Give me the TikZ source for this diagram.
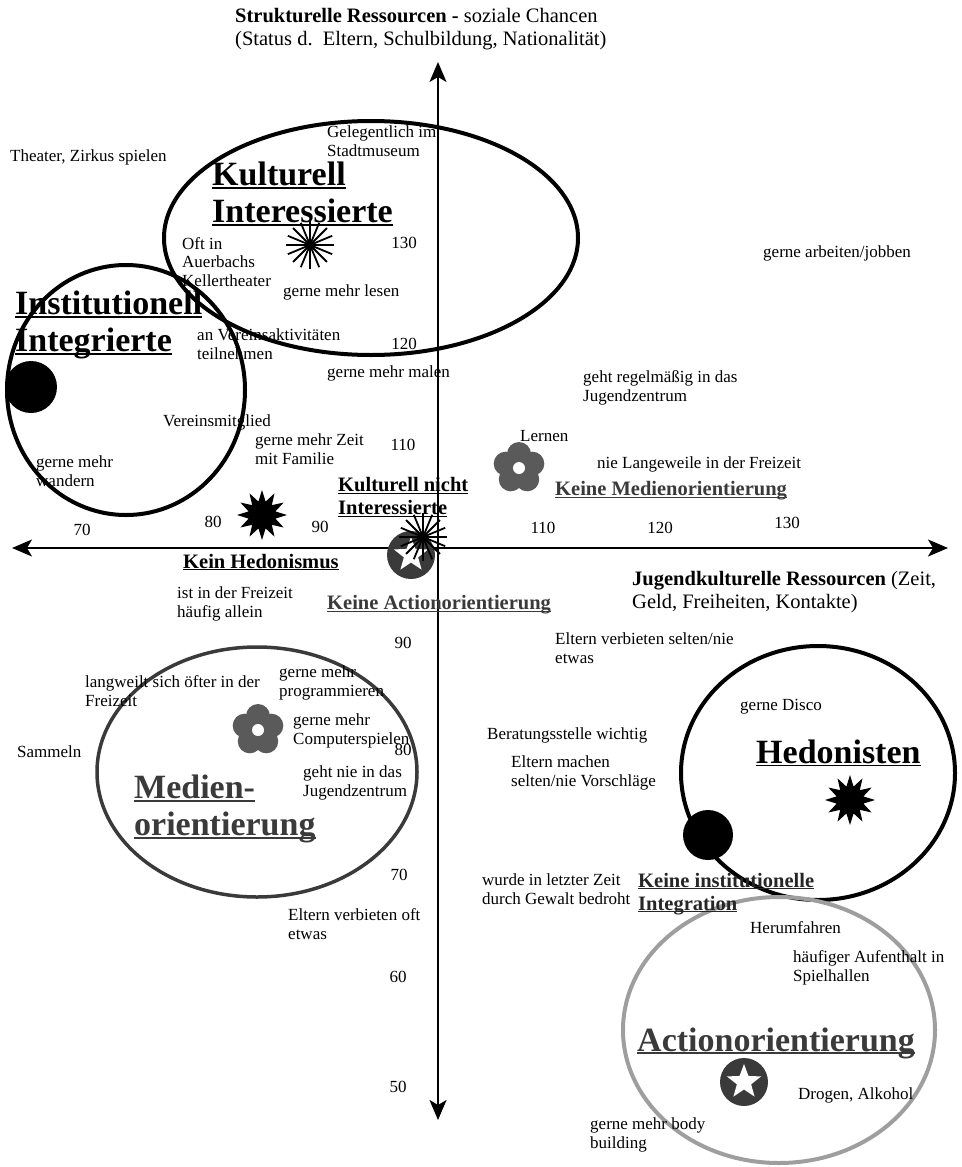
\documentclass[tikz,border=0pt]{standalone}
\usepackage{fontspec}
\setmainfont{Liberation Serif}
\usetikzlibrary{positioning, shapes.geometric, arrows.meta}
\definecolor{ink}{HTML}{000000}
\definecolor{slate}{HTML}{3A3A3A}
\definecolor{ash}{HTML}{9E9E9E}
\definecolor{petal}{HTML}{5A5A5A}
\newcommand{\NormF}{\fontsize{17}{18.5}\selectfont}
\newcommand{\HeadF}{\fontsize{20.5}{23}\selectfont\bfseries}
\newcommand{\BigF}{\fontsize{34}{37}\selectfont\bfseries}
\newcommand{\AxisF}{\fontsize{20.5}{22.5}\selectfont}
% underline close to the baseline
\newcommand{\ulbox}[1]{\setbox0\hbox{#1}\rlap{\rule[-0.09em]{\wd0}{0.05em}}\box0}
% 16 thin rays
\newcommand{\burst}[3]{%
  \coordinate (#1) at (#2,#3);
  \foreach \a in {0,22.5,...,157.5}
    \draw[line width=1.8pt, ink] (#1) ++(\a:24) -- ++(\a+180:48);
}
% five petals, white centre
\newcommand{\flower}[3]{%
  \coordinate (#1) at (#2,#3);
  \fill[petal] (#1) circle[radius=10];
  \foreach \a in {270,342,...,558}
    \fill[petal] (#1) ++(\a:14) circle[radius=12];
  \fill[white] (#1) circle[radius=6];
}
\newcommand{\starcoin}[3]{%
  \node[circle, fill=slate, minimum size=48pt, inner sep=0pt] (#1) at (#2,#3) {};
  \node[star, star points=5, star point ratio=2.4, fill=white, minimum size=36pt, inner sep=0pt] at (#1) {};
}
\tikzset{
  remark/.style={anchor=west, align=left, inner sep=0pt, font=\NormF, text=ink},
  grouphead/.style={anchor=west, align=left, inner sep=0pt, font=\HeadF, text=ink},
  bighead/.style={anchor=west, align=left, inner sep=0pt, font=\BigF, text=ink},
  axistext/.style={anchor=west, align=left, inner sep=0pt, font=\AxisF, text=ink},
  tick/.style={inner sep=0pt, font=\NormF},
  ring/.style={ellipse, draw=ink, line width=4pt, inner sep=0pt},
  spiky/.style={star, star points=12, star point ratio=1.8, fill=ink, minimum size=50pt, inner sep=0pt},
  dot/.style={circle, fill=ink, minimum size=52pt, inner sep=0pt},
  axis/.style={line width=2pt, ink, {Stealth[length=20pt, width=17pt, inset=5pt]}-{Stealth[length=20pt, width=17pt, inset=5pt]}}
}
\begin{document}
\begin{tikzpicture}[x=1pt,y=-1pt]
\useasboundingbox (0,0) rectangle (961,1167);
% groups
\node[ring, minimum width=414pt, minimum height=234pt] (kultur) at (371,238) {};
\node[ring, minimum width=238pt, minimum height=250pt] (instit) at (126,390) {};
\node[ring, draw=slate, line width=3.5pt, minimum width=320pt, minimum height=250pt] (medien) at (257,772) {};
\node[ring, minimum width=274pt, minimum height=254pt] (hedon) at (818,773) {};
\node[ring, draw=ash, minimum width=312pt, minimum height=266pt] (action) at (779,1030) {};
% axes
\coordinate (ytop) at (438,62);
\coordinate (ybot) at (438,1120);
\coordinate (xleft) at (12,548);
\coordinate (xright) at (948,548);
\draw[axis] (ybot) -- (ytop);
\draw[axis] (xleft) -- (xright);
\node[axistext] (ytitle) at (235,29) {\textbf{Strukturelle Ressourcen -} soziale Chancen\\(Status d.\ \ Eltern, Schulbildung, Nationalität)};
\node[axistext] (xtitle) at (632,592) {\textbf{Jugendkulturelle Ressourcen} (Zeit,\\Geld, Freiheiten, Kontakte)};
\foreach \v/\px/\py in {70/82/530, 80/213/522, 90/320/527, 110/543/528, 120/660/528, 130/787/523}
  \node[tick] (hx\v) at (\px,\py) {\v};
\foreach \v/\px/\py in {130/404/243, 120/404/344, 110/403/445, 90/403/643, 80/403/750, 70/399/875, 60/398/977, 50/398/1087}
  \node[tick] (vy\v) at (\px,\py) {\v};
% symbols
\node[dot] (instdot) at (31,387) {};
\node[dot, minimum size=50pt] (hedodot) at (708,835) {};
\node[spiky] (hedostar1) at (262,515) {};
\node[spiky] (hedostar2) at (850,800) {};
\flower{medflower1}{519}{468}
\flower{medflower2}{258}{730}
\starcoin{actcoin1}{411}{555}
\starcoin{actcoin2}{744}{1082}
\burst{kulburst1}{310}{245}
\burst{kulburst2}{423}{537}
% headings
\node[bighead] (kulhead) at (212,194) {\ulbox{Kulturell}\\\ulbox{Interessierte}};
\node[bighead] (insthead) at (15,325) {\ulbox{Institutionell}\\\ulbox{Integrierte}};
\node[bighead, text=slate] (medhead) at (134,809) {\ulbox{Medien-}\\\ulbox{orientierung}};
\node[bighead] (hedhead) at (756,753) {\ulbox{Hedonisten}};
\node[bighead, text=slate] (acthead) at (637,1043) {\ulbox{Actionorientierung}};
\node[grouphead] (nokul) at (338,497) {\ulbox{Kulturell nicht}\\\ulbox{Interessierte}};
\node[grouphead, text=slate] (nomed) at (555,491) {\ulbox{Keine Medienorientierung}};
\node[grouphead] (nohed) at (183,562) {\ulbox{Kein Hedonismus}};
\node[grouphead, text=slate] (noact) at (327,605) {\ulbox{Keine Actionorientierung}};
\node[grouphead, text=black!85] (noinst) at (638,894) {\ulbox{Keine institutionelle}\\\ulbox{Integration}};
% items
\node[remark] (theater) at (10,157) {Theater, Zirkus spielen};
\node[remark] (museum) at (327,141) {Gelegentlich im\\Stadtmuseum};
\node[remark] (auerbach) at (182,262) {Oft in\\Auerbachs\\Kellertheater};
\node[remark] (lesen) at (283,292) {gerne mehr lesen};
\node[remark] (jobben) at (763,253) {gerne arbeiten/jobben};
\node[remark] (verein) at (197,344) {an Vereinsaktivitäten\\teilnehmen};
\node[remark] (malen) at (327,373) {gerne mehr malen};
\node[remark] (jzreg) at (583,388) {geht regelmäßig in das\\Jugendzentrum};
\node[remark] (mitglied) at (163,422) {Vereinsmitglied};
\node[remark] (familie) at (255,449) {gerne mehr Zeit\\mit Familie};
\node[remark] (wandern) at (36,471) {gerne mehr\\wandern};
\node[remark] (lernen) at (520,436) {Lernen};
\node[remark] (langnie) at (597,464) {nie Langeweile in der Freizeit};
\node[remark] (allein) at (177,604) {ist in der Freizeit\\häufig allein};
\node[remark] (verbnie) at (555,648) {Eltern verbieten selten/nie\\etwas};
\node[remark] (langoft) at (85,691) {langweilt sich öfter in der\\Freizeit};
\node[remark] (program) at (279,683) {gerne mehr\\programmieren};
\node[remark] (compspiel) at (293,731) {gerne mehr\\Computerspielen};
\node[remark] (sammeln) at (17,752) {Sammeln};
\node[remark] (jznie) at (303,783) {geht nie in das\\Jugendzentrum};
\node[remark] (disco) at (740,707) {gerne Disco};
\node[remark] (beratung) at (487,735) {Beratungsstelle wichtig};
\node[remark] (vorschlag) at (511,773) {Eltern machen\\selten/nie Vorschläge};
\node[remark] (gewalt) at (482,889) {wurde in letzter Zeit\\durch Gewalt bedroht};
\node[remark] (verboft) at (288,924) {Eltern verbieten oft\\etwas};
\node[remark] (fahren) at (750,928) {Herumfahren};
\node[remark] (spielhalle) at (793,968) {häufiger Aufenthalt in\\Spielhallen};
\node[remark] (drogen) at (798,1095) {Drogen, Alkohol};
\node[remark] (body) at (590,1135) {gerne mehr body\\building};
\end{tikzpicture}
\end{document}
